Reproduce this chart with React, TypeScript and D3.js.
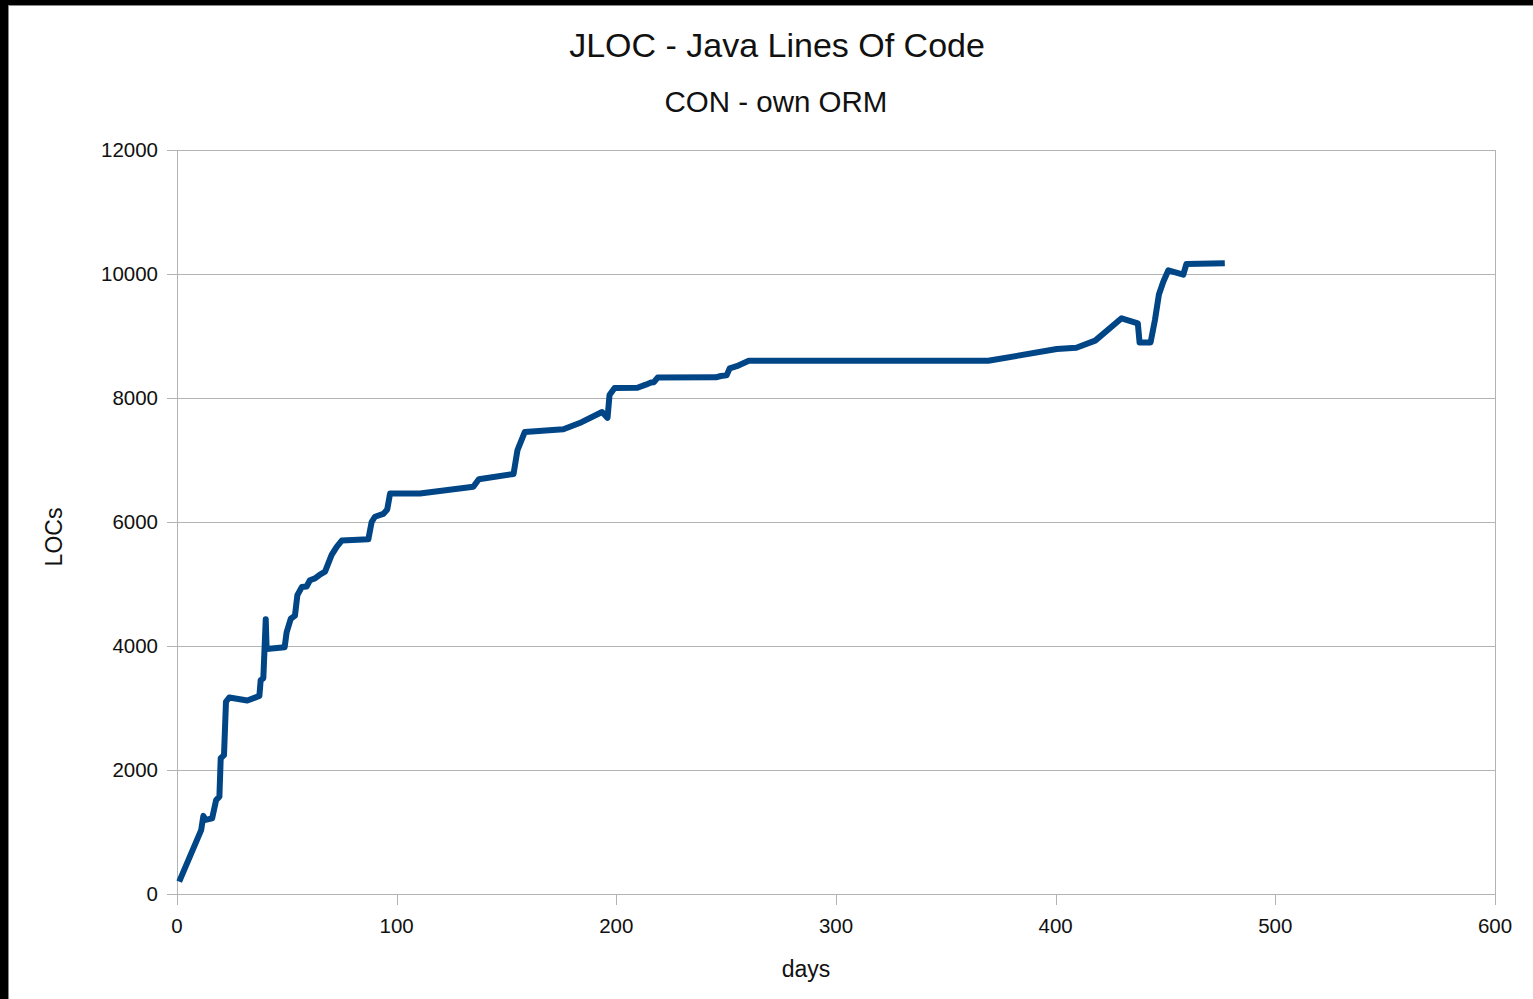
import React from "react";
import * as d3 from "d3";

const TITLE = "JLOC - Java Lines Of Code";
const SUBTITLE = "CON - own ORM";
const X_LABEL = "days";
const Y_LABEL = "LOCs";
const xTicks = [0, 100, 200, 300, 400, 500, 600];
const yTicks = [0, 2000, 4000, 6000, 8000, 10000, 12000];

const days = [1, 11, 12, 13, 16, 17.8, 19.3, 19.9, 21.4, 22.3, 23.8, 32, 37.5, 38.1, 39.3, 40.4, 40.8, 49, 49.9, 51.8, 53.7, 54.8, 56.8, 59, 60.5, 62.8, 64.8, 67.4, 70.4, 72.7, 75, 87.1, 88.6, 90.1, 93.9, 95.7, 97, 110.6, 134.9, 137.4, 153.2, 155, 158.3, 175.9, 184.2, 193.5, 196, 196.9, 199.2, 209.6, 213.4, 215.8, 217.1, 218.8, 245.3, 247.6, 250.2, 251.6, 254.8, 260.3, 369.3, 400.5, 409.4, 418, 430, 437.4, 438.2, 443.2, 445.2, 447, 449, 451.3, 458.1, 459.5, 477];
const locs = [200, 1030, 1260, 1195, 1220, 1515, 1570, 2190, 2240, 3100, 3170, 3120, 3195, 3450, 3480, 4430, 3950, 3980, 4220, 4440, 4490, 4820, 4950, 4960, 5060, 5090, 5145, 5200, 5470, 5600, 5700, 5720, 6000, 6085, 6130, 6200, 6460, 6460, 6570, 6690, 6775, 7160, 7450, 7495, 7610, 7775, 7680, 8048, 8160, 8165, 8215, 8250, 8255, 8330, 8333, 8355, 8365, 8478, 8513, 8600, 8600, 8790, 8810, 8925, 9285, 9204, 8895, 8895, 9258, 9670, 9876, 10060, 9990, 10160, 10175];

const W = 1533;
const H = 999;
const FONT = "'Liberation Sans', Arial, sans-serif";

export default function App() {
  const x = d3.scaleLinear().domain([0, 600]).range([177, 1495]);
  const y = d3.scaleLinear().domain([0, 12000]).range([894, 150]);
  const pts: [number, number][] = days.map((d, i) => [d, locs[i]]);
  const line = d3
    .line<[number, number]>()
    .x((d) => x(d[0]))
    .y((d) => y(d[1]));
  const grid = "#b3b3b3";
  return (
    <svg
      width={W}
      height={H}
      style={{ position: "absolute", left: 0, top: 0, display: "block" }}
      fontFamily={FONT}
    >
      <rect x={0} y={0} width={W} height={H} fill="#000" />
      <rect x={8.5} y={5.5} width={W} height={H} fill="#fff" stroke="#8a8a8a" strokeWidth={1} />
      <text x={777} y={57} textAnchor="middle" fontSize={34} fill="#111">
        {TITLE}
      </text>
      <text x={776} y={112} textAnchor="middle" fontSize={29.5} fill="#111">
        {SUBTITLE}
      </text>
      {yTicks.map((t) => (
        <g key={"y" + t}>
          <line x1={167} x2={1495} y1={Math.round(y(t)) + 0.5} y2={Math.round(y(t)) + 0.5} stroke={grid} strokeWidth={1} />
          <text x={158} y={y(t)} dy="0.35em" textAnchor="end" fontSize={20.5} fill="#111">
            {t}
          </text>
        </g>
      ))}
      {xTicks.map((t) => (
        <g key={"x" + t}>
          <line x1={Math.round(x(t)) + 0.5} x2={Math.round(x(t)) + 0.5} y1={t === 0 || t === 600 ? 150 : 894} y2={905} stroke={grid} strokeWidth={1} />
          <text x={x(t)} y={933} textAnchor="middle" fontSize={20.5} fill="#111">
            {t}
          </text>
        </g>
      ))}
      <text x={806} y={977} textAnchor="middle" fontSize={23} fill="#111">
        {X_LABEL}
      </text>
      <text
        transform={`translate(62,537) rotate(-90)`}
        textAnchor="middle"
        fontSize={23}
        fill="#111"
      >
        {Y_LABEL}
      </text>
      <path
        d={line(pts) || ""}
        fill="none"
        stroke="#004586"
        strokeWidth={6}
        strokeLinejoin="round"
        strokeLinecap="butt"
      />
    </svg>
  );
}
